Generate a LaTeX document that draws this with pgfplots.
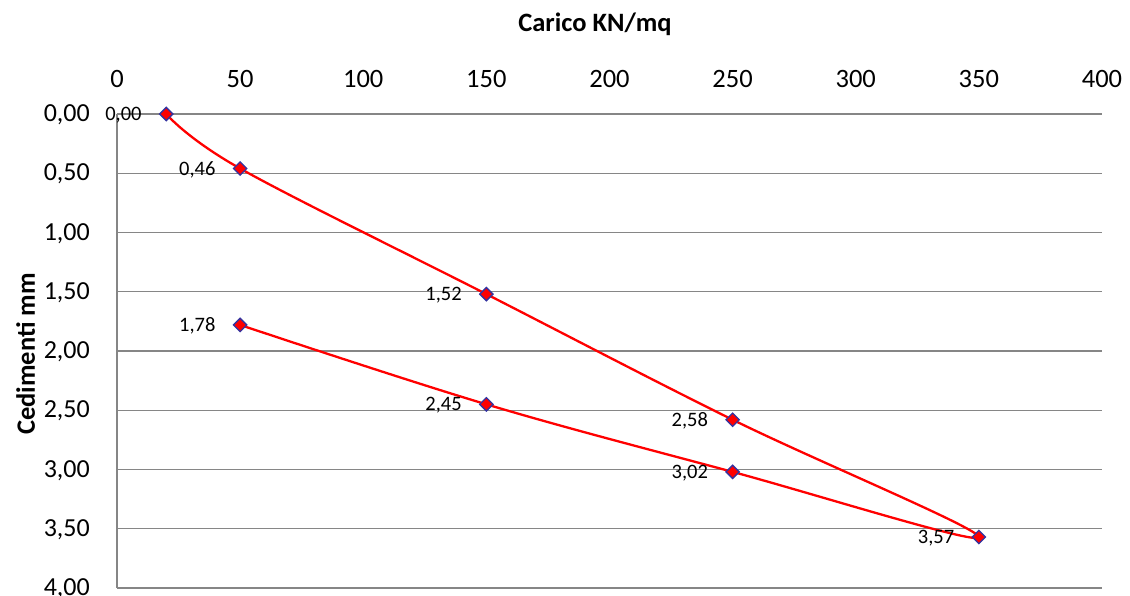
\documentclass[border=0pt]{standalone}
\usepackage{pgfplots}
\pgfplotsset{compat=1.18}
\usepackage{fontspec}
\setmainfont{Carlito}
\definecolor{gridgray}{HTML}{868686}
\definecolor{mkblue}{HTML}{3333A0}
\begin{document}
\begin{tikzpicture}
\useasboundingbox (-117pt,-8pt) rectangle (1013pt,588pt);
\begin{axis}[
  at={(0,0)}, anchor=south west,
  scale only axis, width=985pt, height=474pt,
  xmin=0, xmax=400, ymin=0, ymax=4,
  y dir=reverse,
  xtick={0,50,...,400},
  ytick={0,0.5,...,4},
  axis x line*=top, axis y line*=left,
  axis line style={draw=gridgray, line width=1.6pt, -},
  ymajorgrids, grid style={draw=gridgray, line width=1.3pt},
  major tick length=0pt,
  /pgf/number format/assume math mode=true,
  yticklabel={\pgfmathprintnumber[fixed,fixed zerofill,precision=2,use comma]{\tick}},
  xticklabel style={font=\fontsize{26.5}{30}\selectfont, anchor=base, yshift=26pt, inner sep=0pt},
  yticklabel style={font=\fontsize{26}{30}\selectfont, anchor=base east, xshift=-27pt, yshift=-7.6pt, inner sep=0pt},
  clip=false,
]
\addplot[red, line width=2.3pt, smooth, tension=0.6,
  mark=square*, mark size=4.7pt,
  mark options={fill=red, draw=mkblue, line width=1.3pt, rotate=45},
  point meta=y,
  nodes near coords={\pgfmathprintnumber[fixed,fixed zerofill,precision=2,use comma]{\pgfplotspointmeta}},
  every node near coord/.append style={font=\fontsize{20.5}{24}\selectfont, text=black, anchor=base east, xshift=-24pt, yshift=-6.5pt, inner sep=0pt},
] coordinates {
  (20,0.00) (50,0.46) (150,1.52) (250,2.58) (350,3.57) (250,3.02) (150,2.45) (50,1.78)
};
\end{axis}
\node[font=\fontsize{26.5}{30}\selectfont\bfseries, anchor=base] at (478pt,556pt) {Carico KN/mq};
\node[font=\fontsize{26.5}{30}\selectfont\bfseries, rotate=90, anchor=base] at (-82pt,234pt) {Cedimenti mm};
\end{tikzpicture}
\end{document}
